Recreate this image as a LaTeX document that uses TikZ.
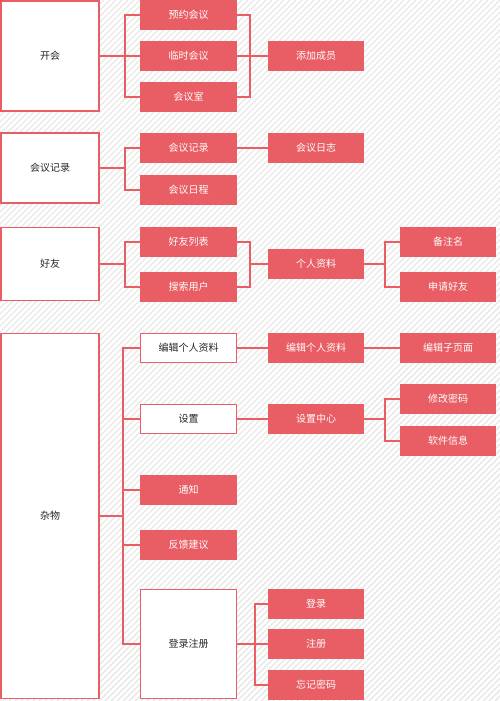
\documentclass[tikz,border=0pt]{standalone}
\usepackage{fontspec}
\setmainfont{Noto Sans CJK SC}
\usetikzlibrary{positioning}
\definecolor{boxred}{RGB}{232,94,100}
\definecolor{stripegray}{RGB}{232,232,232}

\begin{document}
\begin{tikzpicture}[
    x=1pt, y=-1pt,
    redblock/.style={rectangle, fill=boxred, text=white, minimum width=97pt, minimum height=30pt, inner sep=0pt, font=\fontsize{10}{12}\selectfont},
    whiteblock/.style={rectangle, draw=boxred, line width=1.5pt, fill=white, text=black!85, minimum width=96pt, minimum height=29pt, inner sep=0pt, font=\fontsize{10}{12}\selectfont},
    mainblock/.style={whiteblock, minimum width=98pt},
    link/.style={draw=boxred, line width=1.5pt},
    stripe/.style={draw=stripegray, line width=1.4pt}
]
    % Background
    \useasboundingbox (0,0) rectangle (500,701);
    \fill[white] (0,0) rectangle (500,701);
    \begin{scope}
        \clip (0,0) rectangle (500,701);
        \foreach \i in {-705,-699,...,505}
            \draw[stripe] (\i,701) -- ++(701,-701);
    \end{scope}

    % Nodes
    \node[mainblock, minimum height=110pt] (kaihui) at (50,56) {开会};
    \node[mainblock, minimum height=70pt] (jilu) at (50,168) {会议记录};
    \node[mainblock, minimum height=73pt] (haoyou) at (50,264) {好友};
    \node[mainblock, minimum height=365pt] (zawu) at (50,516) {杂物};

    \node[redblock] (yuyue) at (188.5,15) {预约会议};
    \node[redblock] (linshi) at (188.5,56) {临时会议};
    \node[redblock] (huiyishi) at (188.5,97) {会议室};
    \node[redblock] (jilusub) at (188.5,148) {会议记录};
    \node[redblock] (richeng) at (188.5,190) {会议日程};
    \node[redblock] (liebiao) at (188.5,242) {好友列表};
    \node[redblock] (sousuo) at (188.5,287) {搜索用户};
    \node[whiteblock] (bianji) at (188.5,348) {编辑个人资料};
    \node[whiteblock] (shezhi) at (188.5,419) {设置};
    \node[redblock] (tongzhi) at (188.5,490) {通知};
    \node[redblock] (fankui) at (188.5,545) {反馈建议};
    \node[whiteblock, minimum height=109pt] (denglu) at (188.5,644) {登录注册};

    \node[redblock, minimum width=96pt] (tianjia) at (316,56) {添加成员};
    \node[redblock, minimum width=96pt] (rizhi) at (316,148) {会议日志};
    \node[redblock, minimum width=96pt] (ziliao) at (316,264) {个人资料};
    \node[redblock, minimum width=96pt] (bianjired) at (316,348) {编辑个人资料};
    \node[redblock, minimum width=96pt] (zhongxin) at (316,419) {设置中心};
    \node[redblock, minimum width=96pt] (login) at (316,604) {登录};
    \node[redblock, minimum width=96pt] (zhuce) at (316,644) {注册};
    \node[redblock, minimum width=96pt] (wangji) at (316,685) {忘记密码};

    \node[redblock, minimum width=96pt] (beizhu) at (448,242) {备注名};
    \node[redblock, minimum width=96pt] (shenqing) at (448,287) {申请好友};
    \node[redblock, minimum width=96pt] (zimian) at (448,348) {编辑子页面};
    \node[redblock, minimum width=96pt] (xiugai) at (448,399) {修改密码};
    \node[redblock, minimum width=96pt] (xinxi) at (448,441) {软件信息};

    % Bracket points
    \coordinate (kaihuiB) at (125,56);
    \coordinate (tianjiaB) at (250,56);
    \coordinate (jiluB) at (125,168);
    \coordinate (haoyouB) at (125,264);
    \coordinate (ziliaoL) at (250,264);
    \coordinate (ziliaoR) at (385,264);
    \coordinate (zawuB) at (123,516);
    \coordinate (zhongxinB) at (385,419);
    \coordinate (dengluB) at (255,644);

    % Lines
    \draw[link] (kaihui.east) -- (kaihuiB);
    \foreach \n in {yuyue,linshi,huiyishi} {
        \draw[link] (kaihuiB) |- (\n.west);
        \draw[link] (\n.east) -| (tianjiaB);
    }
    \draw[link] (tianjiaB) -- (tianjia.west);

    \draw[link] (jilu.east) -- (jiluB);
    \foreach \n in {jilusub,richeng}
        \draw[link] (jiluB) |- (\n.west);
    \draw[link] (jilusub) -- (rizhi);

    \draw[link] (haoyou.east) -- (haoyouB);
    \foreach \n in {liebiao,sousuo} {
        \draw[link] (haoyouB) |- (\n.west);
        \draw[link] (\n.east) -| (ziliaoL);
    }
    \draw[link] (ziliaoL) -- (ziliao.west);
    \draw[link] (ziliao.east) -- (ziliaoR);
    \foreach \n in {beizhu,shenqing}
        \draw[link] (ziliaoR) |- (\n.west);

    \draw[link] (zawu.east |- zawuB) -- (zawuB);
    \foreach \n in {bianji,shezhi,tongzhi,fankui,denglu}
        \draw[link] (zawuB) |- (\n.west);
    \draw[link] (bianji) -- (bianjired);
    \draw[link] (bianjired) -- (zimian);
    \draw[link] (shezhi) -- (zhongxin);
    \draw[link] (zhongxin.east) -- (zhongxinB);
    \foreach \n in {xiugai,xinxi}
        \draw[link] (zhongxinB) |- (\n.west);
    \draw[link] (denglu.east |- dengluB) -- (dengluB);
    \foreach \n in {login,zhuce,wangji}
        \draw[link] (dengluB) |- (\n.west);
\end{tikzpicture}
\end{document}
